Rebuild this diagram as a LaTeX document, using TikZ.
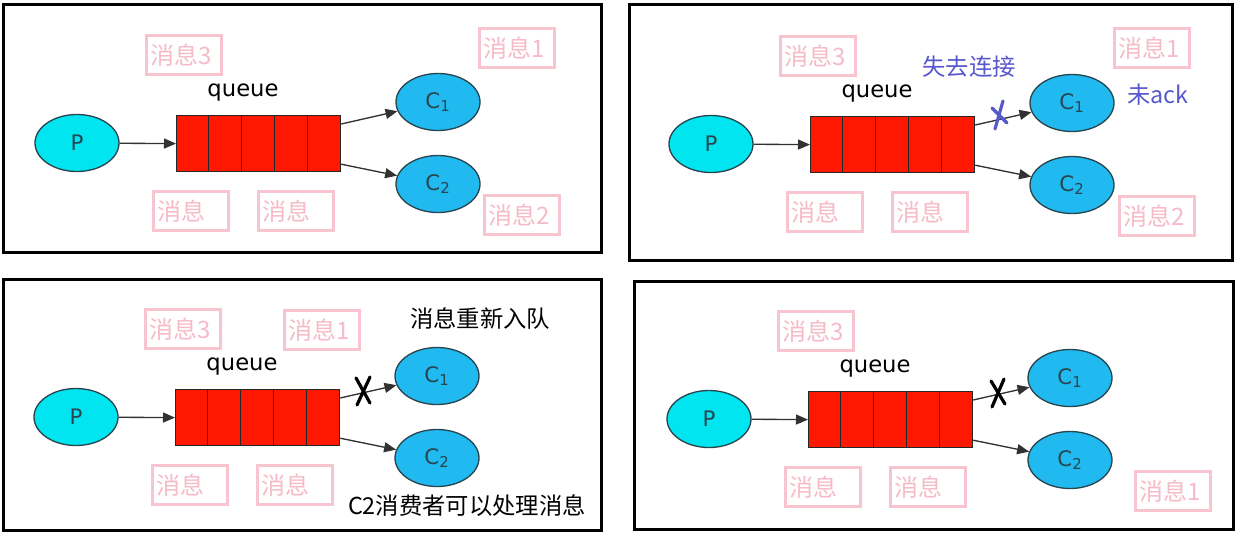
\documentclass[tikz,border=0pt]{standalone}
\usepackage{fontspec}
\setmainfont{DejaVu Sans}
\newfontfamily\cjk{Noto Sans CJK SC}
\usetikzlibrary{shapes.geometric,arrows.meta}
\definecolor{pfill}{RGB}{0,229,240}
\definecolor{cfill}{RGB}{32,186,240}
\definecolor{qfill}{RGB}{255,24,0}
\definecolor{pinkb}{RGB}{247,196,208}
\definecolor{pinkt}{RGB}{246,186,200}
\definecolor{bluet}{RGB}{88,88,205}
\definecolor{edgec}{RGB}{40,70,80}
\definecolor{arrc}{RGB}{50,50,50}
\tikzset{
 panel/.style={draw=black, line width=2.25pt},
 prod/.style={ellipse, draw=edgec, line width=1pt, fill=pfill, minimum width=63pt, minimum height=42.75pt, inner sep=0pt, font=\fontsize{16pt}{18pt}\selectfont, text=edgec},
 cons/.style={prod, fill=cfill},
 queuebox/.style={rectangle, draw=black!85, line width=0.9pt, fill=qfill, minimum width=123pt, minimum height=42pt, inner sep=0pt, anchor=north west},
 cell/.style={draw=black!85, line width=0.9pt},
 msg/.style={rectangle, draw=pinkb, line width=2.25pt, text width=50.25pt, inner xsep=3pt, inner ysep=0pt, minimum height=29.25pt, align=left, text=pinkt, font=\cjk\fontsize{18pt}{19pt}\selectfont},
 flow/.style={draw=arrc, line width=1pt, -{Triangle[length=9pt, width=7.5pt]}},
 qlbl/.style={font=\fontsize{17pt}{18pt}\selectfont},
 cjklbl/.style={font=\cjk\fontsize{17.5pt}{19pt}\selectfont},
 xmark/.style={line width=2.4pt, line cap=round},
}
\newcommand\mqpanel[3]{%
 \begin{scope}[shift={(#2,#3)}]
  \node[queuebox] (#1q) at (0,0) {};
  \foreach \i in {1,...,4} \draw[cell] (\i*32.8,0) -- (\i*32.8,56);
  \node[qlbl] (#1ql) at (67,-22) {queue};
  \node[prod] (#1p) at (-99,28) {P};
  \node[cons] (#1c1) at (262,-13) {C\textsubscript{1}};
  \node[cons] (#1c2) at (262,69) {C\textsubscript{2}};
  \node[msg] (#1m3) at (7.5,-60) {消息3};
  \node[msg] (#1ma) at (15,96) {消息};
  \node[msg] (#1mb) at (120,96) {消息};
 \end{scope}
 \draw[flow] (#1p) -- (#1q.west);
 \draw[flow] ([yshift=-6.75pt]#1q.north east) -- (#1c1);
 \draw[flow] ([yshift=6pt]#1q.south east) -- (#1c2);
}
\begin{document}
\begin{tikzpicture}[x=0.75pt,y=-0.75pt]
\fill[white] (0,0) rectangle (1236,536);
\useasboundingbox (0,0) rectangle (1236,536);
% panels
\draw[panel] (3,4) rectangle (601,252);
\draw[panel] (629,4) rectangle (1232,260);
\draw[panel] (3,279) rectangle (601,530);
\draw[panel] (634,281) rectangle (1233,529);
% panel 1
\mqpanel{a}{176}{115}
\node[msg] (a1) at (517,48) {消息1};
\node[msg] (a2) at (522,215) {消息2};
% panel 2
\mqpanel{b}{810}{116}
\node[msg] (b1) at (1152,48) {消息1};
\node[msg] (b2) at (1157,216) {消息2};
\node[cjklbl, text=bluet] (bt1) at (969,67) {失去连接};
\node[cjklbl, text=bluet] (bt2) at (1158,95) {未ack};
\draw[xmark, bluet] (1003,101) -- (995,129);
\draw[xmark, bluet] (992,108) -- (1007,123);
% panel 3
\mqpanel{c}{175}{389}
\node[msg] (c1m) at (322,330) {消息1};
\node[cjklbl] (ct1) at (480,319) {消息重新入队};
\node[cjklbl] (ct2) at (467,506) {C2消费者可以处理消息};
\draw[xmark] (356,378) -- (370,403);
\draw[xmark] (370,377) -- (357,405);
% panel 4
\mqpanel{d}{808}{391}
\node[msg] (d1m) at (1173,491) {消息1};
\draw[xmark] (991,381) -- (1005,404);
\draw[xmark] (1004,379) -- (992,407);
\end{tikzpicture}
\end{document}
